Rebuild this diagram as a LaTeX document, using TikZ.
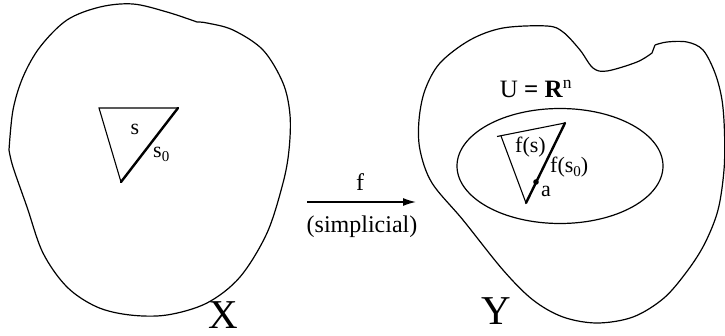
\documentclass[tikz,border=0pt]{standalone}
\usepackage{fontspec}
\setmainfont{Liberation Serif}
\usetikzlibrary{arrows.meta,shapes.geometric}
\tikzset{
  outline/.style={line width=1.2pt, line join=round},
  thin edge/.style={line width=1.1pt},
  thick edge/.style={line width=2.4pt, line cap=round},
  lbl/.style={inner sep=0pt, font=\fontsize{22}{24}\selectfont},
  big/.style={inner sep=0pt, font=\fontsize{41}{43}\selectfont},
}
\newcommand{\subz}{\raisebox{-0.3ex}{\fontsize{15}{15}\selectfont 0}}
\begin{document}
\begin{tikzpicture}[x=1pt,y=-1pt]
\useasboundingbox (0,0) rectangle (725,336);
% X blob
\draw[outline] plot[smooth, tension=0.55] coordinates {(9,150) (13,110) (23,77) (40,47) (67,20) (100,7) (133,4) (167,12) (197,22)}
  -- plot[smooth, tension=0.55] coordinates {(197,22) (207,23) (233,30) (263,50) (283,83) (290,115) (289,150) (283,183) (267,233) (240,277) (207,303) (167,315) (130,315) (97,307) (67,287) (43,253) (27,207) (13,167) (9,150)};
% simplex s
\coordinate (s1) at (99,108);
\coordinate (s2) at (178,108);
\coordinate (s3) at (121,182);
\draw[thin edge] (s3) -- (s1) -- (s2);
\draw[thick edge] (s2) -- (s3);
\node[lbl, anchor=base] (slab) at (135,135) {s};
\node[lbl, anchor=base west] (s0lab) at (153,158) {s\subz};
\node[big, anchor=base] (Xlab) at (223,328) {X};
% arrow
\coordinate (arrS) at (307,202);
\coordinate (arrE) at (416,202);
\draw[line width=1.4pt, -{Latex[length=13pt,width=8pt]}] (arrS) -- (arrE);
\node[font=\fontsize{24}{26}\selectfont, inner sep=0pt, anchor=base] (flab) at (360,191) {f};
\node[font=\fontsize{24}{26}\selectfont, inner sep=0pt, anchor=base] (simp) at (362,233) {(simplicial)};
% Y blob
\draw[outline] plot[smooth, tension=0.55] coordinates {(655,45) (667,42) (687,42) (703,50) (715,73) (722,100) (724.5,133) (724,170) (718,210) (705,243) (688,270) (664,298) (633,317) (597,323) (563,317) (533,300) (503,270) (463,220) (432,183) (420,150) (419,120) (425,90) (440,63) (470,40) (503,28) (547,26) (563,32) (580,50) (593,68) (607,71) (637,62) (652,53)} -- (655,45);
% ellipse U
\node[draw, ellipse, line width=1.2pt, minimum width=206pt, minimum height=115pt, inner sep=0pt] (U) at (560,166) {};
\node[font=\fontsize{25}{27}\selectfont, inner sep=0pt, anchor=base] (Ulab) at (536,98) {U \textbf{=} \textbf{R}\textsuperscript{n}};
% simplex f(s)
\coordinate (t1) at (501,136);
\coordinate (t0) at (497,136.5);
\coordinate (t2) at (565,123);
\coordinate (t3) at (526,203);
\draw[thin edge] (t3) -- (t1);
\draw[thin edge] (t0) -- (t2);
\draw[thick edge] (t2) -- (t3);
\fill (536,182) circle (2.8pt) coordinate (apt);
\node[lbl, anchor=base west] (fslab) at (515,153) {f(s)};
\node[lbl, anchor=base west] (fs0lab) at (550,173) {f(s\subz)};
\node[lbl, anchor=base west] (alab) at (541,197) {a};
\node[big, anchor=base] (Ylab) at (496,324) {Y};
\end{tikzpicture}
\end{document}
